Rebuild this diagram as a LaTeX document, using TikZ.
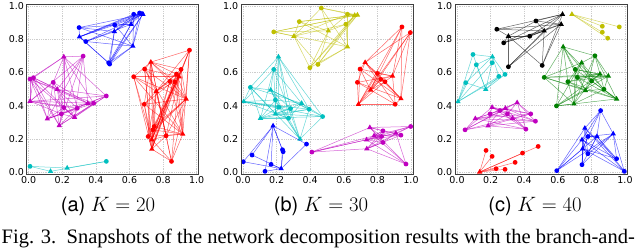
\documentclass[tikz,border=0pt]{standalone}
\usepackage[no-math]{fontspec}
\setmainfont{Liberation Serif}
\setsansfont{TeX Gyre Heros}
\newfontfamily\tickfont{DejaVu Sans}
\usetikzlibrary{shapes.geometric}
\definecolor{mplb}{rgb}{0,0,1}
\definecolor{mplr}{rgb}{1,0,0}
\definecolor{mplm}{rgb}{0.75,0,0.75}
\definecolor{mplc}{rgb}{0,0.75,0.75}
\definecolor{mply}{rgb}{0.75,0.75,0}
\definecolor{mplg}{rgb}{0,0.5,0}
\definecolor{mplk}{rgb}{0,0,0}
% one cluster: name, colour, circle positions, triangle positions
\newcommand{\netgroup}[4]{%
  \foreach \p [count=\i] in {#3} \path \p coordinate (#1c\i);
  \foreach \q [count=\j] in {#4} \path \q coordinate (#1t\j);
  \foreach \p [count=\i] in {#3} {\foreach \q [count=\j] in {#4} \draw[edge,#2] (#1c\i) -- (#1t\j);}
  \foreach \p [count=\i] in {#3} \node[dot,#2] (#1C\i) at (#1c\i) {};
  \foreach \q [count=\j] in {#4} \node[tri,#2] (#1T\j) at (#1t\j) {};
}
\newcommand{\axesgrid}{%
  \foreach \v in {0,0.2,0.4,0.6,0.8,1} {
    \draw[gridln] (\v,-0.012) -- (\v,1.012);
    \draw[gridln] (-0.012,\v) -- (1.012,\v);
  }
}
\newcommand{\axesframe}[1]{%
  \draw[frameln] (-0.012,-0.012) rectangle (1.012,1.012);
  \foreach \v/\t [count=\i] in {0/0.0,0.2/0.2,0.4/0.4,0.6/0.6,0.8/0.8,1/1.0} {
    \node[ticklbl, anchor=north] (#1x\i) at ([yshift=-2.5pt]\v,-0.012) {\t};
    \node[ticklbl, anchor=east] (#1y\i) at ([xshift=-2.5pt]-0.012,\v) {\t};
  }
}

\begin{document}
\begin{tikzpicture}[x=1pt, y=1pt,
  gridln/.style={gray!40, line width=0.5pt, dash pattern=on 1pt off 0.8pt},
  frameln/.style={draw=black!75, line width=0.6pt},
  edge/.style={line width=0.5pt, opacity=0.6},
  dot/.style={circle, fill, inner sep=0pt, minimum size=4.8pt},
  tri/.style={regular polygon, regular polygon sides=3, fill, inner sep=0pt, minimum size=6.2pt},
  ticklbl/.style={font=\tickfont\fontsize{9.5}{10}\selectfont, inner sep=0pt},
  subcap/.style={font=\sffamily\fontsize{20}{24}\selectfont, anchor=base}]
\fill[white] (0,0) rectangle (640,248);
\useasboundingbox (0,0) rectangle (640,248);

% (a) K = 20
\begin{scope}[shift={(28.7pt,76pt)}, x=168pt, y=166pt]
\axesgrid
\netgroup{ab}{mplb}{(0.30,0.87),(0.34,0.786),(0.512,0.886),(0.476,0.658),(0.482,0.65),(0.625,0.95),(0.66,0.958),(0.674,0.954)}{(0.302,0.814),(0.51,0.846),(0.62,0.758),(0.609,0.89),(0.68,0.95)}
\netgroup{ar}{mplr}{(0.625,0.574),(0.69,0.62),(0.957,0.734),(0.907,0.618),(0.87,0.542),(0.84,0.546),(0.688,0.408),(0.747,0.274),(0.739,0.254),(0.711,0.214),(0.818,0.218),(0.85,0.064),(0.88,0.59)}{(0.727,0.662),(0.895,0.574),(0.759,0.486),(0.937,0.44),(0.733,0.138),(0.917,0.228),(0.733,0.194)}
\netgroup{am}{mplm}{(0.008,0.56),(0.028,0.568),(0.324,0.698),(0.146,0.54),(0.462,0.458),(0.387,0.414),(0.289,0.384),(0.209,0.388),(0.194,0.35)}{(0.209,0.694),(0.17,0.498),(0.008,0.426),(0.352,0.414),(0.111,0.32),(0.182,0.28),(0.273,0.33)}
\netgroup{ac}{mplc}{(0.008,0.034),(0.462,0.064)}{(0.13,0.004),(0.229,0.024)}
\axesframe{a}
\end{scope}

% (b) K = 30
\begin{scope}[shift={(243pt,76pt)}, x=168pt, y=166pt]
\axesgrid
\netgroup{by}{mply}{(0.183,0.844),(0.466,0.988),(0.335,0.906),(0.622,0.95),(0.612,0.89),(0.398,0.628),(0.446,0.648)}{(0.303,0.818),(0.508,0.85),(0.665,0.944),(0.681,0.946),(0.622,0.754)}
\netgroup{br}{mplr}{(0.946,0.874),(0.996,0.84),(0.697,0.62),(0.681,0.54),(0.8,0.594),(0.845,0.544),(0.906,0.408),(0.82,0.558)}{(0.727,0.66),(0.89,0.578),(0.76,0.494),(0.94,0.442),(0.687,0.408)}
\netgroup{bc}{mplc}{(0.183,0.618),(0.044,0.51),(0.193,0.434),(0.213,0.39),(0.283,0.382),(0.394,0.378),(0.474,0.334),(0.271,0.324)}{(0.211,0.694),(0.004,0.424),(0.165,0.494),(0.104,0.324),(0.193,0.35),(0.349,0.414),(0.339,0.198)}
\netgroup{bb}{mplb}{(0.002,0.062),(0.054,0.102),(0.131,0.004),(0.167,0.046),(0.235,0.134),(0.239,0.122),(0.378,0.168)}{(0.179,0.278),(0.227,0.02)}
\netgroup{bm}{mplm}{(0.41,0.12),(0.833,0.248),(0.825,0.214),(0.833,0.178),(0.94,0.222),(0.998,0.274),(0.97,0.048)}{(0.755,0.268),(0.735,0.194),(0.737,0.14),(0.91,0.234),(0.78,0.218)}
\axesframe{b}
\end{scope}

% (c) K = 40
\begin{scope}[shift={(457pt,76pt)}, x=168pt, y=166pt]
\axesgrid
\netgroup{ck}{mplk}{(0.237,0.86),(0.278,0.778),(0.306,0.634),(0.47,0.91),(0.433,0.818),(0.507,0.642)}{(0.306,0.818),(0.519,0.85),(0.628,0.95),(0.62,0.89)}
\netgroup{cy}{mply}{(0.865,0.878),(0.865,0.842),(0.897,0.806),(0.966,0.874)}{(0.684,0.95)}
\netgroup{cc}{mplc}{(0.095,0.708),(0.115,0.646),(0.209,0.658),(0.052,0.538),(0.249,0.576),(0.286,0.588)}{(0.211,0.694),(0.171,0.498),(0.006,0.424)}
\netgroup{cg}{mplg}{(0.821,0.7),(0.519,0.57),(0.704,0.618),(0.66,0.544),(0.716,0.57),(0.801,0.548),(0.875,0.498),(0.592,0.398)}{(0.632,0.754),(0.742,0.658),(0.851,0.59),(0.901,0.578),(0.765,0.49),(0.95,0.44),(0.696,0.41)}
\netgroup{cm}{mplm}{(0.048,0.254),(0.197,0.35),(0.256,0.37),(0.3,0.35),(0.439,0.35),(0.467,0.306),(0.41,0.258)}{(0.109,0.322),(0.209,0.39),(0.185,0.278),(0.288,0.384),(0.358,0.418),(0.33,0.324)}
\netgroup{cr}{mplr}{(0.173,0.13),(0.209,0.094),(0.233,0.02),(0.286,0.016),(0.346,0.058),(0.39,0.114),(0.483,0.154)}{(0.135,0.0)}
\netgroup{cb}{mplb}{(0.855,0.37),(0.78,0.214),(0.779,0.11),(0.744,0.044),(0.95,0.08),(0.594,0.008),(0.996,0.004)}{(0.761,0.264),(0.744,0.194),(0.833,0.214),(0.93,0.23),(0.748,0.14)}
\axesframe{c}
\end{scope}

\node[subcap] (capa) at (108,36) {(a) $K = 20$};
\node[subcap] (capb) at (321,36) {(b) $K = 30$};
\node[subcap] (capc) at (535,36) {(c) $K = 40$};
\node[font=\rmfamily\fontsize{20.5}{24}\selectfont, anchor=base west, inner sep=0pt] (figcap) at (1.5,4.6) {Fig. 3.\ \ Snapshots of the network decomposition results with the branch-and-};
\end{tikzpicture}
\end{document}
